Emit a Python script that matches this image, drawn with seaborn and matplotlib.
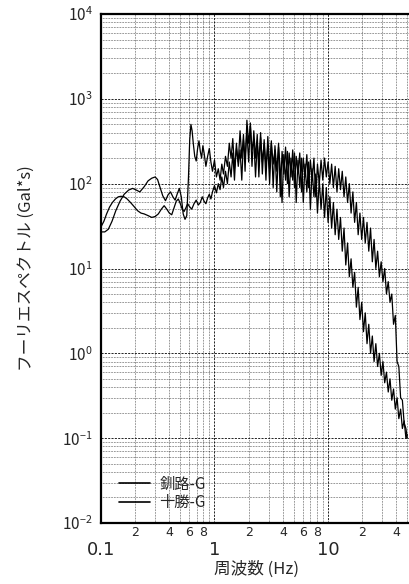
import numpy as np
import pandas as pd
import matplotlib
matplotlib.use("Agg")
import matplotlib.pyplot as plt
import matplotlib.ticker as mticker
from matplotlib import font_manager
import seaborn as sns

# ---------------- data ----------------
series_names = ["釧路-G", "十勝-G"]

kushiro_freq = [0.100, 0.108, 0.116, 0.125, 0.135, 0.147, 0.160, 0.175, 0.190, 0.205,
                0.220, 0.240, 0.260, 0.280, 0.300, 0.315, 0.330, 0.350, 0.370, 0.390,
                0.410, 0.430, 0.450, 0.470, 0.490, 0.510, 0.530, 0.550, 0.570, 0.590,
                0.605, 0.620, 0.635, 0.650, 0.670, 0.690, 0.710, 0.730, 0.750, 0.770,
                0.790, 0.810, 0.840, 0.870, 0.900, 0.930, 0.960, 1.000, 1.040, 1.080,
                1.120, 1.160, 1.200, 1.250, 1.300, 1.350, 1.400, 1.450, 1.500, 1.560,
                1.620, 1.680, 1.740, 1.800, 1.860, 1.930, 2.000, 2.070, 2.140, 2.220,
                2.300, 2.380, 2.460, 2.550, 2.640, 2.740, 2.840, 2.950, 3.060, 3.170,
                3.290, 3.410, 3.540, 3.670, 3.800, 3.940, 4.080, 4.230, 4.390, 4.550,
                4.720, 4.890, 5.070, 5.250, 5.440, 5.640, 5.850, 6.060, 6.280, 6.510,
                6.750, 7.000, 7.250, 7.520, 7.800, 8.080, 8.380, 8.690, 9.000, 9.330,
                9.670, 10.02, 10.39, 10.77, 11.16, 11.57, 12.00, 12.43, 12.89, 13.36,
                13.85, 14.35, 14.88, 15.42, 15.98, 16.57, 17.17, 17.80, 18.45, 19.12,
                19.82, 20.55, 21.30, 22.08, 22.88, 23.72, 24.59, 25.48, 26.41, 27.38,
                28.38, 29.42, 30.49, 31.61, 32.76, 33.96, 35.20, 36.48, 37.82, 39.20,
                40.63, 42.11, 43.65, 45.25, 46.90, 48.61, 50.00]
kushiro_amp = [27, 27, 29, 36, 48, 62, 75, 84, 88, 84,
               80, 92, 108, 116, 120, 112, 92, 72, 63, 74,
               80, 70, 64, 76, 88, 70, 44, 38, 42, 120,
               330, 500, 420, 300, 210, 185, 260, 320, 240, 200,
               280, 230, 160, 210, 260, 180, 140, 190, 120, 150,
               110, 170, 130, 210, 160, 300, 200, 340, 150, 260,
               180, 420, 200, 380, 140, 560, 300, 480, 160, 420,
               200, 380, 120, 350, 180, 300, 110, 360, 150, 320,
               90, 280, 140, 300, 70, 240, 130, 270, 100, 230,
               120, 250, 90, 210, 130, 230, 80, 200, 120, 220,
               90, 190, 110, 200, 70, 170, 100, 190, 110, 200,
               120, 180, 100, 170, 90, 160, 80, 150, 85, 140,
               70, 120, 60, 100, 45, 80, 35, 60, 25, 45,
               22, 40, 20, 35, 16, 30, 12, 22, 10, 16,
               8, 12, 7, 10, 5, 7, 4, 5, 2.2, 2.8,
               0.8, 0.7, 0.3, 0.28, 0.15, 0.13, 0.10]

tokachi_freq = [0.100, 0.106, 0.112, 0.119, 0.126, 0.134, 0.142, 0.150, 0.160, 0.170,
                0.182, 0.195, 0.210, 0.225, 0.240, 0.260, 0.280, 0.300, 0.320, 0.340,
                0.360, 0.380, 0.400, 0.420, 0.440, 0.460, 0.480, 0.500, 0.520, 0.540,
                0.560, 0.580, 0.600, 0.630, 0.660, 0.690, 0.720, 0.750, 0.780, 0.810,
                0.840, 0.870, 0.900, 0.930, 0.960, 1.000, 1.040, 1.080, 1.120, 1.160,
                1.200, 1.250, 1.300, 1.350, 1.400, 1.450, 1.500, 1.560, 1.620, 1.680,
                1.740, 1.800, 1.860, 1.930, 2.000, 2.070, 2.140, 2.220, 2.300, 2.380,
                2.460, 2.550, 2.640, 2.740, 2.840, 2.950, 3.060, 3.170, 3.290, 3.410,
                3.540, 3.670, 3.800, 3.940, 4.080, 4.230, 4.390, 4.550, 4.720, 4.890,
                5.070, 5.250, 5.440, 5.640, 5.850, 6.060, 6.280, 6.510, 6.750, 7.000,
                7.250, 7.520, 7.800, 8.080, 8.380, 8.690, 9.000, 9.330, 9.670, 10.02,
                10.39, 10.77, 11.16, 11.57, 12.00, 12.43, 12.89, 13.36, 13.85, 14.35,
                14.88, 15.42, 15.98, 16.57, 17.17, 17.80, 18.45, 19.12, 19.82, 20.55,
                21.30, 22.08, 22.88, 23.72, 24.59, 25.48, 26.41, 27.38, 28.38, 29.42,
                30.49, 31.61, 32.76, 33.96, 35.20, 36.48, 37.82, 39.20, 40.63, 42.11,
                43.65, 45.25, 46.90, 48.61, 50.00]
tokachi_amp = [31, 36, 44, 53, 60, 66, 70, 71, 70, 66,
               60, 54, 48, 45, 44, 42, 40, 41, 44, 50,
               55, 50, 45, 43, 52, 62, 66, 58, 50, 47,
               52, 58, 54, 50, 58, 64, 56, 60, 70, 62,
               58, 68, 75, 66, 80, 95, 78, 100, 85, 120,
               90, 140, 100, 180, 120, 230, 110, 300, 160, 250,
               110, 330, 200, 420, 180, 520, 250, 330, 120, 300,
               180, 400, 130, 330, 160, 280, 100, 300, 170, 250,
               80, 270, 150, 60, 220, 110, 240, 70, 200, 110,
               230, 60, 190, 90, 200, 60, 170, 80, 180, 50,
               150, 70, 130, 45, 110, 50, 100, 40, 90, 35,
               70, 30, 60, 25, 50, 22, 40, 16, 30, 11,
               20, 8, 13, 6, 9, 3.5, 6, 2.5, 4, 1.8,
               3, 1.3, 2.2, 1.0, 1.6, 0.8, 1.3, 0.7, 1.0, 0.55,
               0.8, 0.45, 0.6, 0.35, 0.5, 0.28, 0.38, 0.22, 0.3, 0.17,
               0.22, 0.13, 0.16, 0.10, 0.11]

x_limits = (0.1, 55)
y_limits = (1e-2, 1e4)
x_major_ticks = [0.1, 1, 10]
x_major_labels = ["0.1", "1", "10"]
x_minor_ticks = [0.2, 0.3, 0.4, 0.5, 0.6, 0.7, 0.8, 0.9,
                 2, 3, 4, 5, 6, 7, 8, 9,
                 20, 30, 40, 50]
x_minor_labels = ["2", "", "4", "", "6", "", "8", "",
                  "2", "", "4", "", "6", "", "8", "",
                  "2", "", "4", ""]

xlabel_text = "周波数 (Hz)"
ylabel_text = "フーリエスペクトル (Gal*s)"

# ---------------- build table ----------------
df = pd.concat([
    pd.DataFrame({"freq": kushiro_freq, "amp": kushiro_amp, "series": series_names[0]}),
    pd.DataFrame({"freq": tokachi_freq, "amp": tokachi_amp, "series": series_names[1]}),
], ignore_index=True)

# ---------------- style ----------------
sns.set_style("white")
plt.rcParams["font.family"] = ["Noto Sans CJK JP", "DejaVu Sans"]
plt.rcParams["mathtext.fontset"] = "dejavusans"

installed = {f.name for f in font_manager.fontManager.ttflist}
tick_family = "Liberation Sans Narrow" if "Liberation Sans Narrow" in installed else "DejaVu Sans"

fig = plt.figure(figsize=(4.10, 5.84), dpi=100)
ax = fig.add_axes([101 / 410, 1 - 523 / 584, 311 / 410, 509 / 584])

sns.lineplot(data=df, x="freq", y="amp", hue="series", hue_order=series_names,
             palette=["black", "black"], estimator=None, sort=False,
             linewidth=0.9, ax=ax, legend=True)

ax.set_xscale("log")
ax.set_yscale("log")
ax.set_xlim(*x_limits)
ax.set_ylim(*y_limits)

# grid
ax.grid(True, which="major", color="black", linestyle=(0, (2.5, 1.5)), linewidth=0.6)
ax.grid(True, which="minor", color="black", linestyle=(0, (1, 1.5)), linewidth=0.45)

# y ticks
ax.yaxis.set_major_locator(mticker.LogLocator(base=10, numticks=10))
ax.yaxis.set_minor_locator(mticker.LogLocator(base=10, subs=np.arange(2, 10), numticks=20))
ax.yaxis.set_minor_formatter(mticker.NullFormatter())
ax.tick_params(axis="y", which="major", labelsize=11, length=0, pad=6)
ax.tick_params(axis="y", which="minor", length=0)

# x ticks
ax.xaxis.set_major_locator(mticker.FixedLocator(x_major_ticks))
ax.xaxis.set_major_formatter(mticker.FixedFormatter(x_major_labels))
ax.xaxis.set_minor_locator(mticker.FixedLocator(x_minor_ticks))
ax.xaxis.set_minor_formatter(mticker.FixedFormatter(x_minor_labels))
ax.tick_params(axis="x", which="major", labelsize=13, length=0, pad=13)
ax.tick_params(axis="x", which="minor", labelsize=9, length=0, pad=2)

for lbl in ax.get_xticklabels(which="both"):
    lbl.set_family(tick_family)

for side in ["left", "top", "bottom", "right"]:
    ax.spines[side].set_color("black")
    ax.spines[side].set_linewidth(1.6)

ax.set_xlabel(xlabel_text, fontsize=12, labelpad=1)
ax.set_ylabel(ylabel_text, fontsize=12, labelpad=20)

leg = ax.legend(loc="lower left", bbox_to_anchor=(0.03, 0.005), frameon=False,
                fontsize=11, handlelength=2.0, handletextpad=0.6, labelspacing=0.1,
                borderaxespad=0.2)
for h in leg.get_lines():
    h.set_linewidth(1.2)
leg.set_title(None)

fig.savefig("out.png", dpi=100)
